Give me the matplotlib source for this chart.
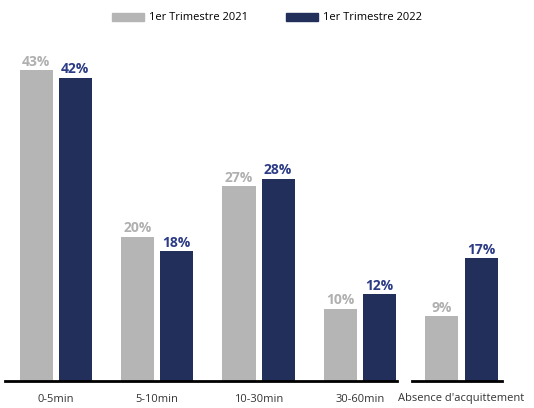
import matplotlib.pyplot as plt
import numpy as np
from matplotlib.patches import Patch

plt.rcParams['font.family'] = ['Open Sans', 'DejaVu Sans']

# --- Données ---
categories = ["0-5min", "5-10min", "10-30min", "30-60min"]
t1_2021 = [43, 20, 27, 10]
t1_2022 = [42, 18, 28, 12]
cat_absence = ["Absence d'acquittement"]
abs_2021 = [9]
abs_2022 = [17]
serie_labels = ["1er Trimestre 2021", "1er Trimestre 2022"]

gris = '#b4b5b4'
bleu = '#222f5b'
gris_txt = '#b0b0b0'
bleu_txt = '#2c3b85'

fig = plt.figure(figsize=(5.34, 4.08), dpi=100)
W, H = 534, 408
y0 = (H - 381) / H
h = 325 / H
ax1 = fig.add_axes([5 / W, y0, (397 - 5) / W, h])
ax2 = fig.add_axes([412 / W, y0, (502 - 412) / W, h])

largeur = 0.326
decal = 0.193


def dessine(ax, cats, v1, v2, xlim):
    x = np.arange(len(cats))
    b1 = ax.bar(x - decal, v1, largeur, color=gris)
    b2 = ax.bar(x + decal, v2, largeur, color=bleu)
    for rect, v in zip(b1, v1):
        ax.text(rect.get_x() + rect.get_width() / 2, v + 0.2, f"{v}%",
                ha='center', va='bottom', fontsize=10, weight='bold', color=gris_txt)
    for rect, v in zip(b2, v2):
        ax.text(rect.get_x() + rect.get_width() / 2, v + 0.2, f"{v}%",
                ha='center', va='bottom', fontsize=10, weight='bold', color=bleu_txt)
    ax.set_xlim(*xlim)
    ax.set_ylim(0, 45)
    ax.set_xticks(x)
    ax.set_xticklabels(cats, fontsize=8, color='#333333')
    ax.tick_params(axis='x', length=0, pad=9)
    ax.set_yticks([])
    for s in ['top', 'right', 'left']:
        ax.spines[s].set_visible(False)
    ax.spines['bottom'].set_linewidth(2)
    ax.spines['bottom'].set_color('black')


dessine(ax1, categories, t1_2021, t1_2022, (-0.50, 0.365 + 3))
dessine(ax2, cat_absence, abs_2021, abs_2022, (-0.489, 0.40))

handles = [Patch(color=gris), Patch(color=bleu)]
fig.legend(handles, serie_labels, loc='center', bbox_to_anchor=(0.5, 1 - 18 / H),
           ncol=2, frameon=False, fontsize=8, handlelength=2.9, handleheight=0.7,
           columnspacing=3.4, handletextpad=0.45)

fig.savefig("out.png", dpi=100)
